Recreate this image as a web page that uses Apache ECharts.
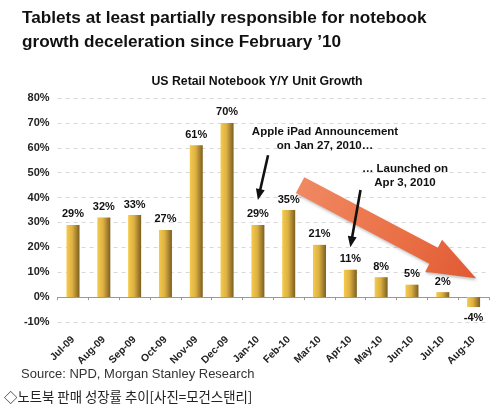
<!DOCTYPE html>
<html>
<head>
<meta charset="utf-8">
<script src="https://cdn.jsdelivr.net/npm/echarts@6/dist/echarts.min.js"></script>
<style>
  html, body { margin: 0; padding: 0; background: #fff; }
  #main { width: 500px; height: 410px; }
</style>
</head>
<body>
<div id="main"></div>
<script>
// categories and values
const months = ['Jul-09', 'Aug-09', 'Sep-09', 'Oct-09', 'Nov-09', 'Dec-09', 'Jan-10',
  'Feb-10', 'Mar-10', 'Apr-10', 'May-10', 'Jun-10', 'Jul-10', 'Aug-10']
const growth = [29, 32, 33, 27, 61, 70, 29, 35, 21, 11, 8, 5, 2, -4]
const yTicks = [-10, 0, 10, 20, 30, 40, 50, 60, 70, 80]

const FONT = '"Liberation Sans", Arial, sans-serif'

const chart = echarts.init(document.getElementById('main'))

const barColor = new echarts.graphic.LinearGradient(0, 0, 1, 0, [
  { offset: 0, color: '#f6cb4a' },
  { offset: 0.45, color: '#dcb044' },
  { offset: 1, color: '#7d5f1e' }
])

const option = {
  backgroundColor: '#fff',
  animation: false,
  title: [
    {
      text: 'Tablets at least partially responsible for notebook\ngrowth deceleration since February \u201910',
      left: 22,
      top: 6,
      padding: 0,
      textStyle: { fontFamily: FONT, fontSize: 17.2, fontWeight: 'bold', color: '#111', lineHeight: 24 }
    },
    {
      text: 'US Retail Notebook Y/Y Unit Growth',
      left: 257,
      top: 76,
      padding: 0,
      textAlign: 'center',
      textStyle: { fontFamily: FONT, fontSize: 12.3, fontWeight: 'bold', color: '#111' }
    },
    {
      text: 'Source: NPD, Morgan Stanley Research',
      left: 21,
      top: 368,
      padding: 0,
      textStyle: { fontFamily: FONT, fontSize: 13, fontWeight: 'normal', color: '#333' }
    },
    {
      text: '\u25c7노트북 판매 성장률 추이[사진=모건스탠리]',
      left: 4,
      top: 390,
      padding: 0,
      textStyle: { fontFamily: '"Noto Sans CJK KR", sans-serif', fontSize: 13.4, fontWeight: 'normal', color: '#222' }
    }
  ],
  grid: { left: 57.6, right: 11, top: 98, bottom: 88 },
  xAxis: {
    type: 'category',
    data: months,
    axisLine: { onZero: true, lineStyle: { color: '#999', width: 1 } },
    axisTick: { show: true, length: 3, alignWithLabel: false, lineStyle: { color: '#999' } },
    axisLabel: {
      rotate: 45,
      interval: 0,
      margin: 16,
      fontFamily: FONT,
      fontSize: 10.3,
      fontWeight: 'bold',
      color: '#222'
    }
  },
  yAxis: {
    type: 'value',
    min: yTicks[0],
    max: yTicks[yTicks.length - 1],
    interval: 10,
    axisLine: { show: false },
    axisTick: { show: false },
    axisLabel: {
      formatter: '{value}%',
      fontFamily: FONT,
      fontSize: 11,
      fontWeight: 'bold',
      color: '#222',
      margin: 8
    },
    splitLine: { lineStyle: { color: '#d8d8d8', type: [4, 4] } }
  },
  series: [{
    type: 'bar',
    barWidth: 13,
    data: growth.map(v => ({
      value: v,
      label: { position: v < 0 ? 'bottom' : 'top' }
    })),
    itemStyle: { color: barColor },
    label: {
      show: true,
      formatter: '{c}%',
      distance: 5,
      fontFamily: FONT,
      fontSize: 11,
      fontWeight: 'bold',
      color: '#111'
    }
  }]
}

chart.setOption(option)

// annotation arrows placed in data space (category index, value %)
const blackArrows = [
  { from: [6.33, 57], to: [6.0, 39] },
  { from: [9.33, 43], to: [9.0, 20] }
]
const bigArrow = { from: [7.37, 45], to: [13.08, 7.6] }

function toPx(pt) {
  const a = chart.convertToPixel({ gridIndex: 0 }, [0, pt[1]])
  const b = chart.convertToPixel({ gridIndex: 0 }, [1, pt[1]])
  return [a[0] + pt[0] * (b[0] - a[0]), a[1]]
}

function arrowPolygon(p0, p1, shaftW, headW, headL) {
  const dx = p1[0] - p0[0]
  const dy = p1[1] - p0[1]
  const len = Math.sqrt(dx * dx + dy * dy)
  const ux = dx / len
  const uy = dy / len
  const nx = -uy
  const ny = ux
  const bx = p1[0] - ux * headL
  const by = p1[1] - uy * headL
  const pt = (x, y, s) => [x + nx * s, y + ny * s]
  return [
    pt(p0[0], p0[1], shaftW / 2),
    pt(bx, by, shaftW / 2),
    pt(bx, by, headW / 2),
    p1,
    pt(bx, by, -headW / 2),
    pt(bx, by, -shaftW / 2),
    pt(p0[0], p0[1], -shaftW / 2)
  ]
}

const graphics = []

const bp0 = toPx(bigArrow.from)
const bp1 = toPx(bigArrow.to)
graphics.push({
  type: 'polygon',
  shape: { points: arrowPolygon(bp0, bp1, 18, 36, 48) },
  style: {
    fill: new echarts.graphic.LinearGradient(0, 0, 1, 1, [
      { offset: 0, color: '#f08a64' },
      { offset: 0.6, color: '#ea6f45' },
      { offset: 1, color: '#e05a34' }
    ]),
    shadowBlur: 3,
    shadowColor: 'rgba(0,0,0,0.25)',
    shadowOffsetX: 1,
    shadowOffsetY: 2
  },
  z: 10
})

blackArrows.forEach(a => {
  const p0 = toPx(a.from)
  const p1 = toPx(a.to)
  graphics.push({
    type: 'polygon',
    shape: { points: arrowPolygon(p0, p1, 2.6, 9, 11) },
    style: { fill: '#111' },
    z: 11
  })
})

const noteStyle = { fontFamily: FONT, fontSize: 11.5, fontWeight: 'bold', fill: '#111', align: 'center', lineHeight: 14 }
graphics.push({
  type: 'text',
  x: 325,
  y: 125,
  style: Object.assign({ text: 'Apple iPad Announcement\non Jan 27, 2010\u2026' }, noteStyle),
  z: 12
})
graphics.push({
  type: 'text',
  x: 405,
  y: 162,
  style: Object.assign({ text: '\u2026 Launched on\nApr 3, 2010' }, noteStyle),
  z: 12
})

chart.setOption({ graphic: graphics })
</script>
</body>
</html>
